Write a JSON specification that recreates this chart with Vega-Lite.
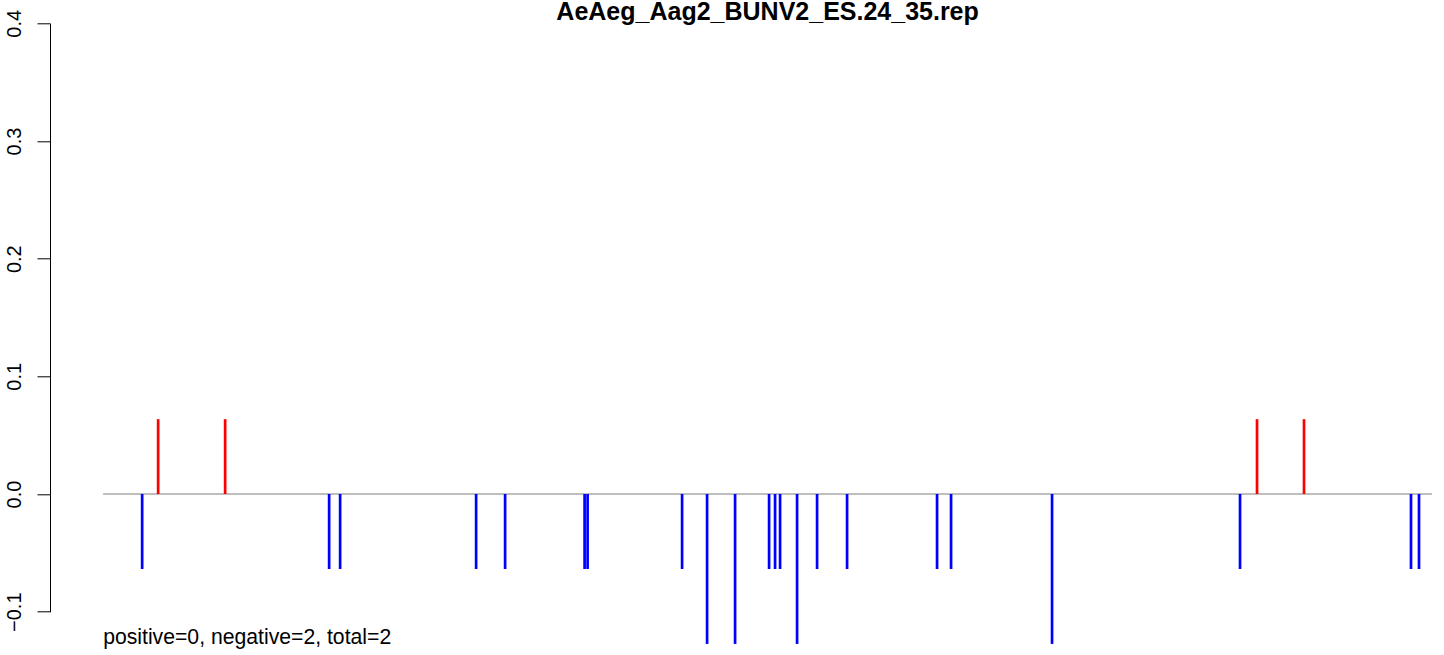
{
  "$schema": "https://vega.github.io/schema/vega-lite/v6.json",
  "width": 1394,
  "height": 588.4,
  "autosize": {"type": "none"},
  "padding": {"left": 50, "top": 23.3, "right": 0, "bottom": 43.3},
  "background": "white",
  "config": {"view": {"stroke": null}, "font": "Liberation Sans"},
  "datasets": {
    "reads": [
      {"pos": 40, "value": -0.0637, "strand": "antisense"},
      {"pos": 56, "value": 0.0636, "strand": "sense"},
      {"pos": 123, "value": 0.0636, "strand": "sense"},
      {"pos": 227, "value": -0.0637, "strand": "antisense"},
      {"pos": 238, "value": -0.0637, "strand": "antisense"},
      {"pos": 374, "value": -0.0637, "strand": "antisense"},
      {"pos": 403, "value": -0.0637, "strand": "antisense"},
      {"pos": 482.5, "value": -0.0637, "strand": "antisense"},
      {"pos": 485.5, "value": -0.0637, "strand": "antisense"},
      {"pos": 580, "value": -0.0637, "strand": "antisense"},
      {"pos": 605, "value": -0.1274, "strand": "antisense"},
      {"pos": 633, "value": -0.1274, "strand": "antisense"},
      {"pos": 667, "value": -0.0637, "strand": "antisense"},
      {"pos": 673, "value": -0.0637, "strand": "antisense"},
      {"pos": 678, "value": -0.0637, "strand": "antisense"},
      {"pos": 695, "value": -0.1274, "strand": "antisense"},
      {"pos": 715, "value": -0.0637, "strand": "antisense"},
      {"pos": 745, "value": -0.0637, "strand": "antisense"},
      {"pos": 835, "value": -0.0637, "strand": "antisense"},
      {"pos": 849, "value": -0.0637, "strand": "antisense"},
      {"pos": 950, "value": -0.1274, "strand": "antisense"},
      {"pos": 1138, "value": -0.0637, "strand": "antisense"},
      {"pos": 1155, "value": 0.0636, "strand": "sense"},
      {"pos": 1202, "value": 0.0636, "strand": "sense"},
      {"pos": 1309, "value": -0.0637, "strand": "antisense"},
      {"pos": 1317, "value": -0.0637, "strand": "antisense"}
    ],
    "baseline": [{"start": 1, "end": 1330, "level": 0}],
    "labels": [
      {"role": "title", "label": "AeAeg_Aag2_BUNV2_ES.24_35.rep"},
      {"role": "summary", "label": "positive=0, negative=2, total=2"}
    ]
  },
  "layer": [
    {
      "data": {"name": "baseline"},
      "mark": {"type": "rule", "color": "#a9a9a9", "strokeWidth": 1.4},
      "encoding": {
        "x": {"field": "start", "type": "quantitative", "scale": {"domain": [-52.16, 1342], "nice": false, "zero": false}, "axis": null},
        "x2": {"field": "end"},
        "y": {
          "field": "level",
          "type": "quantitative",
          "scale": {"domain": [-0.1, 0.4], "nice": false, "zero": false},
          "axis": {
            "values": [-0.1, 0, 0.1, 0.2, 0.3, 0.4],
            "format": ".1f",
            "title": null,
            "grid": false,
            "labelAngle": 270,
            "labelAlign": "center",
            "labelBaseline": "alphabetic",
            "labelPadding": 17,
            "labelFlush": false,
            "labelOverlap": false,
            "labelFont": "Liberation Sans",
            "labelFontSize": 20,
            "labelColor": "black",
            "tickSize": 13,
            "tickColor": "black",
            "tickWidth": 1,
            "domainColor": "black",
            "domainWidth": 1
          }
        }
      }
    },
    {
      "data": {"name": "reads"},
      "mark": {"type": "rule", "strokeWidth": 2.7, "strokeCap": "butt"},
      "encoding": {
        "x": {"field": "pos", "type": "quantitative"},
        "y": {"field": "value", "type": "quantitative"},
        "y2": {"datum": 0},
        "color": {"field": "strand", "type": "nominal", "scale": {"domain": ["sense", "antisense"], "range": ["#ff0000", "#0000ff"]}, "legend": null}
      }
    },
    {
      "data": {"name": "labels"},
      "transform": [{"filter": "datum.role === 'summary'"}],
      "mark": {"type": "text", "align": "left", "baseline": "alphabetic", "fontSize": 21.2, "font": "Liberation Sans", "color": "black"},
      "encoding": {
        "x": {"datum": 1, "type": "quantitative"},
        "y": {"datum": -0.1271, "type": "quantitative"},
        "text": {"field": "label"}
      }
    },
    {
      "data": {"name": "labels"},
      "transform": [{"filter": "datum.role === 'title'"}],
      "mark": {"type": "text", "align": "center", "baseline": "alphabetic", "fontSize": 25, "fontWeight": "bold", "font": "Liberation Sans", "color": "black"},
      "encoding": {
        "x": {"datum": 665.5, "type": "quantitative"},
        "y": {"datum": 0.403, "type": "quantitative"},
        "text": {"field": "label"}
      }
    }
  ]
}
